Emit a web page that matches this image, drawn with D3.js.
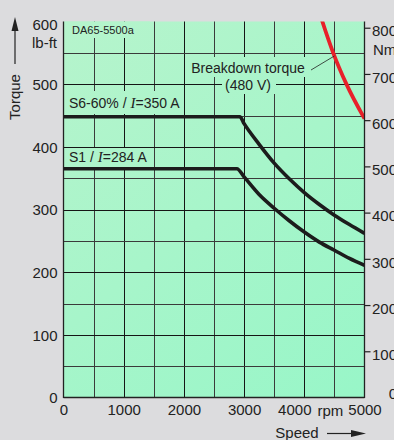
<!DOCTYPE html>
<html><head><meta charset="utf-8">
<script src="https://cdn.jsdelivr.net/npm/d3@7/dist/d3.min.js"></script>
<style>
html,body{margin:0;padding:0;background:#dcdcde;}
svg{display:block;}
text{font-family:"Liberation Sans",Arial,sans-serif;fill:#222;}
</style></head>
<body>
<script>
// ---- data ----
const xTicks = [0,1000,2000,3000,4000,5000];
const yTicks = [0,100,200,300,400,500,600];
const nmTicks = [0,100,200,300,400,500,600,700,800];
const s6Speed = [0,2930,3000,3250,3500,3750,4000,4250,4500,4750,5000];
const s6Torque = [448,448,437,404,374,349,327,308,291,276,262];
const s1Speed = [0,2880,3000,3250,3500,3750,4000,4250,4500,4750,5000];
const s1Torque = [365,365,352,324,302,282,264,248,235,222,211];
const bdSpeed = [4260,4300,4480,4700,5000];
const bdTorque = [612,600,550,500,445];
const NM_TO_LBFT = 0.7376;

const W=394,H=440;
const svg=d3.select("body").append("svg").attr("width",W).attr("height",H);
const x=d3.scaleLinear().domain([0,5000]).range([63.5,364.5]);
const y=d3.scaleLinear().domain([0,600]).range([397.5,21.5]);
const yNm=d3.scaleLinear().domain([0,800]).range([y(0),y(800*NM_TO_LBFT)]);

const defs=svg.append("defs");
const g=defs.append("linearGradient").attr("id","bg").attr("gradientUnits","userSpaceOnUse")
  .attr("x1",x(0)).attr("y1",y(600)).attr("x2",x(5000)).attr("y2",y(0));
g.append("stop").attr("offset","0%").attr("stop-color","#b6f4cc");
g.append("stop").attr("offset","100%").attr("stop-color","#98f6c8");
defs.append("clipPath").attr("id","clip").append("rect")
  .attr("x",x(0)).attr("y",y(600)).attr("width",x(5000)-x(0)).attr("height",y(0)-y(600));

// plot background
svg.append("rect").attr("x",x(0)).attr("y",y(600)).attr("width",x(5000)-x(0)).attr("height",y(0)-y(600)).attr("fill","url(#bg)");

// grid
const grid=svg.append("g");
d3.range(500,5000,500).forEach(v=>{
  grid.append("line").attr("x1",Math.round(x(v))+0.5).attr("x2",Math.round(x(v))+0.5).attr("y1",y(600)).attr("y2",y(0))
    .attr("stroke",v%1000===0?"#151515":"#3a3a3a").attr("stroke-width",1);
});
d3.range(50,600,50).forEach(v=>{
  grid.append("line").attr("x1",x(0)).attr("x2",x(5000)).attr("y1",Math.round(y(v))+0.5).attr("y2",Math.round(y(v))+0.5)
    .attr("stroke",v%100===0?"#151515":"#3a3a3a").attr("stroke-width",1);
});

// label boxes covering the grid
const boxes=[[x(0)+1,y(600),150,38],[x(0)+1,91,181,114],[x(0)+1,148,150,167],[186,57,310,77],[222,77,276,94]];
boxes.forEach(b=>svg.append("rect").attr("x",b[0]).attr("y",b[1]).attr("width",b[2]-b[0]).attr("height",b[3]-b[1]).attr("fill","url(#bg)"));

// curves
const line=d3.line().x(d=>x(d[0])).y(d=>y(d[1])).curve(d3.curveMonotoneX);
const plot=svg.append("g").attr("clip-path","url(#clip)");
plot.append("path").attr("d",line(s6Speed.map((s,i)=>[s,s6Torque[i]]))).attr("fill","none").attr("stroke","#1c1c1c").attr("stroke-width",3.6);
plot.append("path").attr("d",line(s1Speed.map((s,i)=>[s,s1Torque[i]]))).attr("fill","none").attr("stroke","#1c1c1c").attr("stroke-width",3.6);
plot.append("path").attr("d",line(bdSpeed.map((s,i)=>[s,bdTorque[i]]))).attr("fill","none").attr("stroke","#e8202a").attr("stroke-width",3.8);

// leader line
svg.append("line").attr("x1",311).attr("y1",70).attr("x2",x(4500)).attr("y2",y(545)).attr("stroke","#222").attr("stroke-width",0.8);

// axes borders
svg.append("line").attr("x1",x(0)).attr("x2",x(0)).attr("y1",y(600)).attr("y2",y(0)+0.5).attr("stroke","#222").attr("stroke-width",1.3);
svg.append("line").attr("x1",x(0)).attr("x2",x(5000)).attr("y1",y(0)).attr("y2",y(0)).attr("stroke","#222").attr("stroke-width",1.3);
svg.append("line").attr("x1",x(5000)).attr("x2",x(5000)).attr("y1",y(600)).attr("y2",y(0)+0.5).attr("stroke","#222").attr("stroke-width",1.3);

// left axis labels
const yAx=svg.append("g").attr("transform",`translate(${x(0)},0)`)
  .call(d3.axisLeft(y).tickValues(yTicks).tickSize(0).tickPadding(6).tickFormat(d3.format("d")));
yAx.select(".domain").remove();
yAx.selectAll("text").style("font-size","15px").attr("font-family","Liberation Sans, Arial, sans-serif").attr("fill","#222")
  .attr("dy",d=>d===600?"0.55em":"0.35em");
svg.append("text").attr("x",57).attr("y",48).attr("text-anchor","end").style("font-size","15px").text("lb-ft");

// bottom axis labels
const xAx=svg.append("g").attr("transform",`translate(0,${y(0)})`)
  .call(d3.axisBottom(x).tickValues(xTicks).tickSize(0).tickPadding(7).tickFormat(d3.format("d")));
xAx.select(".domain").remove();
xAx.selectAll("text").style("font-size","15px").attr("font-family","Liberation Sans, Arial, sans-serif").attr("fill","#222")
  .attr("transform",d=>d===4000?"translate(-10,0)":null);
svg.append("text").attr("x",x(4500)-4).attr("y",416).attr("text-anchor","middle").style("font-size","15px").text("rpm");

// right Nm axis
const rAx=svg.append("g").attr("transform",`translate(${x(5000)},0)`)
  .call(d3.axisRight(yNm).tickValues(nmTicks).tickSize(6).tickPadding(1).tickFormat(d3.format("d")));
rAx.select(".domain").remove();
rAx.selectAll("line").attr("stroke","#222").attr("stroke-width",1.2).attr("opacity",d=>d===0?0:1);
rAx.selectAll("text").style("font-size","15px").attr("font-family","Liberation Sans, Arial, sans-serif").attr("fill","#222")
  .attr("text-anchor","end").attr("x",32.5).attr("dy",d=>d===0?"0.05em":"0.55em");
svg.append("text").attr("x",373).attr("y",55).style("font-size","15px").text("Nm");

// axis titles with arrows
svg.append("text").attr("transform","translate(20,97) rotate(-90)").attr("text-anchor","middle").style("font-size","15px").text("Torque");
svg.append("line").attr("x1",15).attr("x2",15).attr("y1",64).attr("y2",28).attr("stroke","#222").attr("stroke-width",1.2);
svg.append("path").attr("d","M15,17 L11.5,31 L18.5,31 Z").attr("fill","#222");
svg.append("text").attr("x",297).attr("y",438).attr("text-anchor","middle").style("font-size","15px").text("Speed");
svg.append("line").attr("x1",327).attr("x2",354).attr("y1",433.5).attr("y2",433.5).attr("stroke","#222").attr("stroke-width",1.2);
svg.append("path").attr("d","M366,433.5 L351,430 L351,437 Z").attr("fill","#222");

// annotations
svg.append("text").attr("x",72).attr("y",34).style("font-size","11px").text("DA65-5500a");
const t1=svg.append("text").attr("x",69).attr("y",108).style("font-size","14px");
t1.append("tspan").text("S6-60% / ");
t1.append("tspan").attr("font-family","Liberation Serif, serif").attr("font-style","italic").style("font-size","15px").text("I");
t1.append("tspan").text("=350 A");
const t2=svg.append("text").attr("x",69).attr("y",162).style("font-size","14px");
t2.append("tspan").text("S1 / ");
t2.append("tspan").attr("font-family","Liberation Serif, serif").attr("font-style","italic").style("font-size","15px").text("I");
t2.append("tspan").text("=284 A");
svg.append("text").attr("x",248).attr("y",73).attr("text-anchor","middle").style("font-size","14px").text("Breakdown torque");
svg.append("text").attr("x",248).attr("y",90).attr("text-anchor","middle").style("font-size","14px").text("(480 V)");
</script>
</body></html>
